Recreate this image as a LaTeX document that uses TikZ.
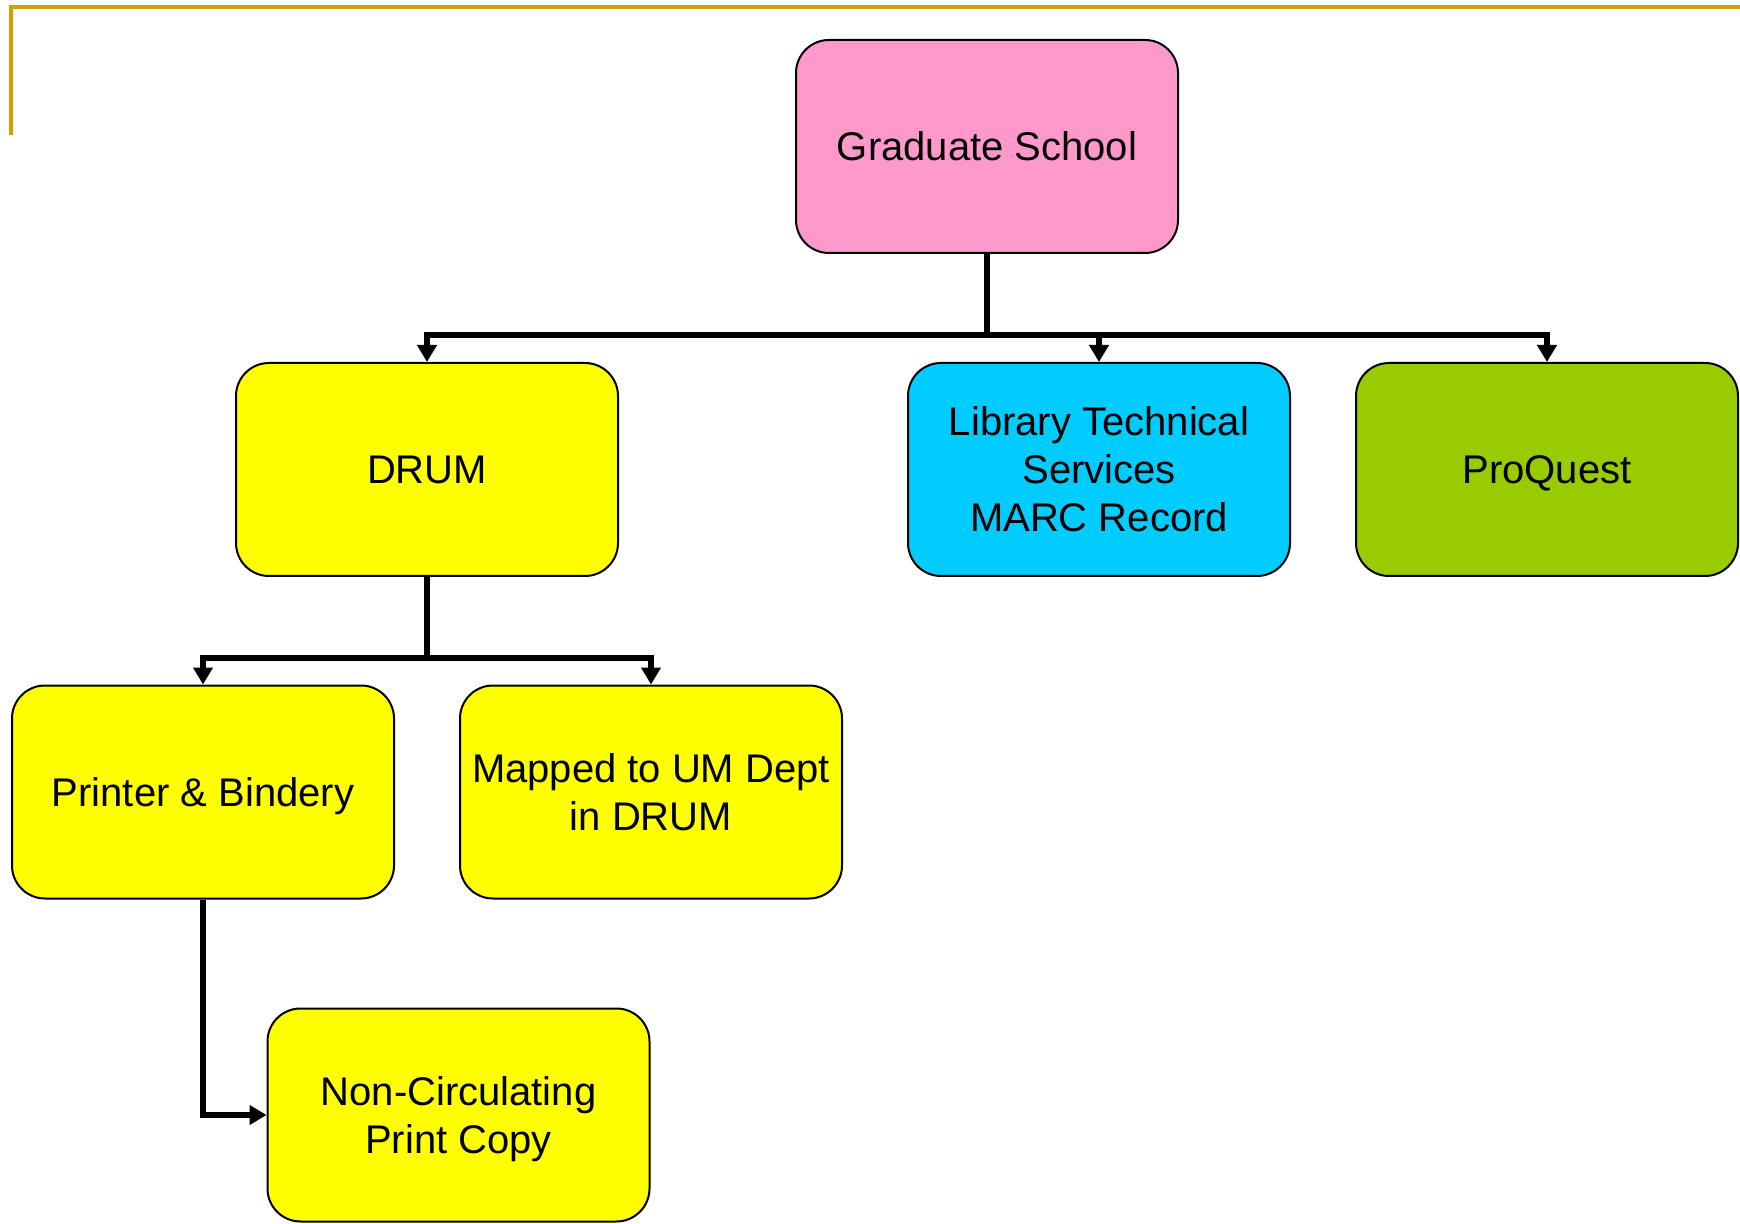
\documentclass[tikz,border=0pt]{standalone}
\usepackage{fontspec}
\setmainfont{Liberation Sans}
\usetikzlibrary{arrows.meta}
\definecolor{gold}{RGB}{212,160,0}
\definecolor{pinkbox}{RGB}{255,153,204}
\definecolor{yellowbox}{RGB}{255,255,0}
\definecolor{cyanbox}{RGB}{0,204,255}
\definecolor{greenbox}{RGB}{153,204,0}
\tikzset{
  box/.style={draw=black, line width=1pt, rounded corners=16.5pt,
    minimum width=191pt, minimum height=106.5pt, align=center,
    font=\fontsize{20}{24}\selectfont, inner sep=0pt, text depth=0pt},
  conn/.style={line width=2.6pt, line join=miter},
  arr/.style={conn, -{Triangle[width=9.5pt,length=8.5pt]}}
}
\begin{document}
\begin{tikzpicture}[x=0.5pt,y=-0.5pt]
\useasboundingbox (0,0) rectangle (1740,1224);
\draw[gold, line width=2pt] (11,135) -- (11,7) -- (1740,7);
\node[box, fill=pinkbox] (grad) at (987,146.5) {Graduate School};
\node[box, fill=yellowbox] (drum) at (427,469.5) {DRUM};
\node[box, fill=cyanbox] (lib) at (1099,469.5) {Library Technical\\Services\\MARC Record};
\node[box, fill=greenbox] (pq) at (1547,469.5) {ProQuest};
\node[box, fill=yellowbox] (pb) at (203,792) {Printer \& Bindery};
\node[box, fill=yellowbox] (map) at (651,792) {Mapped to UM Dept\\in DRUM};
\node[box, fill=yellowbox] (nc) at (458.5,1115) {Non-Circulating\\Print Copy};
\coordinate (b1) at (987,335);
\coordinate (b2) at (427,658);
\draw[conn] (grad.south) -- (b1);
\draw[arr] (b1) -| (drum.north);
\draw[arr] (b1) -| (lib.north);
\draw[arr] (b1) -| (pq.north);
\draw[conn] (drum.south) -- (b2);
\draw[arr] (b2) -| (pb.north);
\draw[arr] (b2) -| (map.north);
\draw[arr] (pb.south) |- (nc.west);
\end{tikzpicture}
\end{document}
